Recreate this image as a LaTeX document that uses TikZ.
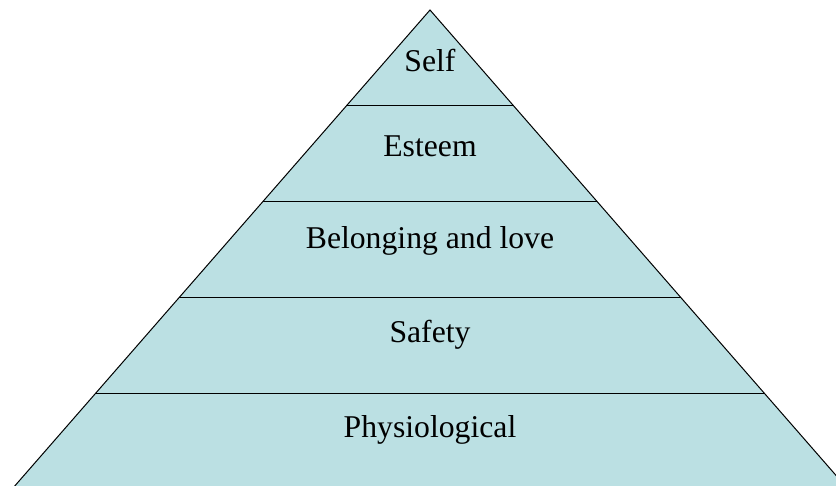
\documentclass[tikz,border=0pt]{standalone}
\usepackage{fontspec}
\setmainfont{Liberation Serif}
\definecolor{pyrfill}{HTML}{BBE0E3}
\begin{document}
\begin{tikzpicture}[x=1pt,y=-1pt,
  band/.style={draw=black,line width=1pt},
  lbl/.style={anchor=base,inner sep=0pt,font=\fontsize{31.7}{38}\selectfont}]
\useasboundingbox (0,0) rectangle (836,485);
\clip (0,0) rectangle (836,485);
\coordinate (apex) at (430,10);
\coordinate (bl) at (3.4,499);
\coordinate (br) at (856.6,499);
\fill[pyrfill] (apex) -- (bl) -- (br) -- cycle;
\draw[line width=1pt,line join=miter] (bl) -- (apex) -- (br);
\foreach \y/\h in {105/83.1, 201/166.9, 297/250.7, 393/334.5}{
  \draw[band] (430-\h,\y) -- (430+\h,\y);
}
\node[lbl] (self) at (430,71) {Self};
\node[lbl] (esteem) at (430,156) {Esteem};
\node[lbl] (belong) at (430,248) {Belonging and love};
\node[lbl] (safety) at (430,342) {Safety};
\node[lbl] (phys) at (430,437) {Physiological};
\end{tikzpicture}
\end{document}
